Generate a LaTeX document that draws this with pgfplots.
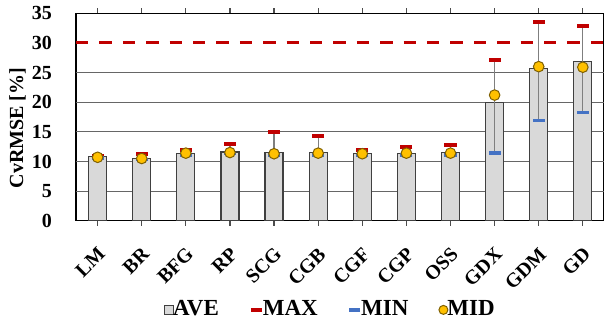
\documentclass[border=0pt]{standalone}
\usepackage{fontspec}
\setmainfont{Liberation Serif}
\usepackage{pgfplots}
\pgfplotsset{compat=1.18}
\usepackage{pgfplotstable}
\definecolor{barfill}{HTML}{D9D9D9}
\definecolor{maxred}{HTML}{C00000}
\definecolor{minblue}{HTML}{4472C4}
\definecolor{midorange}{HTML}{FFC000}
\definecolor{midedge}{HTML}{7F6000}
\definecolor{errgray}{HTML}{7F7F7F}

\pgfplotstableread{
x ave max min mid
0 10.8 10.9 10.6 10.7
1 10.5 11.2 10.3 10.5
2 11.4 12.0 11.0 11.4
3 11.6 12.9 11.3 11.5
4 11.5 15.0 11.1 11.3
5 11.5 14.3 11.1 11.4
6 11.3 12.0 11.0 11.3
7 11.4 12.5 11.1 11.4
8 11.5 12.8 11.1 11.4
9 20.0 27.1 11.4 21.2
10 25.7 33.6 16.9 26.0
11 26.8 32.9 18.3 25.9
}\data

\begin{document}
\begin{tikzpicture}
\begin{axis}[name=ax, scale only axis, width=264pt, height=103.7pt,
 xmin=-0.49, xmax=11.48, ymin=0, ymax=35,
 ytick={0,5,...,35}, xtick={0,...,11},
 xticklabels={LM,BR,BFG,RP,SCG,CGB,CGF,CGP,OSS,GDX,GDM,GD},
 extra y ticks={5,10,15,20,25},
 extra y tick labels={},
 extra y tick style={ymajorgrids=true, major tick length=0pt},
 grid style={black!60, line width=0.5pt},
 axis line style={black, line width=0.6pt},
 font=\bfseries,
 tick label style={font=\bfseries\fontsize{10}{12}\selectfont},
 /pgf/number format/assume math mode=true,
 xticklabel style={rotate=45, anchor=north east, xshift=-4pt, yshift=-3.5pt},
 yticklabel style={xshift=-6pt},
 tick align=outside, major tick length=2.5pt,
 xtick style={draw=black!70, line width=0.6pt},
 ytick style={draw=none},
 ylabel={CvRMSE [\%]},
 every axis y label/.style={at={(axis description cs:-0.1108,0.447)}, rotate=90, anchor=center, font=\bfseries\fontsize{10}{12}\selectfont},
 legend columns=4,
 legend style={at={(axis description cs:0.155,-0.43)}, anchor=west, draw=none, fill=none,
   font=\bfseries\fontsize{11.5}{13}\selectfont,
   nodes={inner sep=1pt},
   /tikz/every odd column/.append style={column sep=-1.5pt},
   /tikz/every even column/.append style={column sep=14pt}},
]
\addplot[ybar, bar width=9pt, bar shift=0pt, fill=barfill, draw=black!75, line width=0.6pt,
  legend image code/.code={\draw[fill=barfill,draw=black!75,line width=0.5pt] (0pt,-2.25pt) rectangle (4.5pt,2.25pt);}]
  table[x=x,y=ave]{\data};
\addlegendentry{AVE}
\addplot[forget plot, maxred, line width=1.5pt, dash pattern=on 6.2pt off 5.5pt]
  coordinates {(-0.49,30) (11.48,30)};
\addplot[forget plot, errgray, only marks, mark=none,
  error bars/.cd, y dir=both, y explicit, error mark=none,
  error bar style={errgray, line width=0.6pt}]
  table[x=x, y=mid, y error plus expr=\thisrow{max}-\thisrow{mid}, y error minus expr=\thisrow{mid}-\thisrow{min}]{\data};
\addplot[only marks, mark=-, mark size=3pt, mark options={maxred, line width=2pt},
  legend image code/.code={\draw[maxred,line width=2pt] (0pt,0pt) -- (5.5pt,0pt);}]
  table[x=x,y=max]{\data};
\addlegendentry{MAX}
\addplot[only marks, mark=-, mark size=3pt, mark options={minblue, line width=1.7pt},
  legend image code/.code={\draw[minblue,line width=1.7pt] (0pt,0pt) -- (5.5pt,0pt);}]
  table[x=x,y=min]{\data};
\addlegendentry{MIN}
\addplot[only marks, mark=*, mark size=2.65pt, mark options={fill=midorange, draw=midedge, line width=0.5pt},
  legend image code/.code={\draw[fill=midorange,draw=midedge,line width=0.5pt] (2.25pt,0pt) circle (2.25pt);}]
  table[x=x,y=mid]{\data};
\addlegendentry{MID}
\end{axis}
\pgfresetboundingbox
\path[use as bounding box] (ax.south west) ++(-38pt,-50.65pt) rectangle ++(302pt,161pt);
\end{tikzpicture}
\end{document}
